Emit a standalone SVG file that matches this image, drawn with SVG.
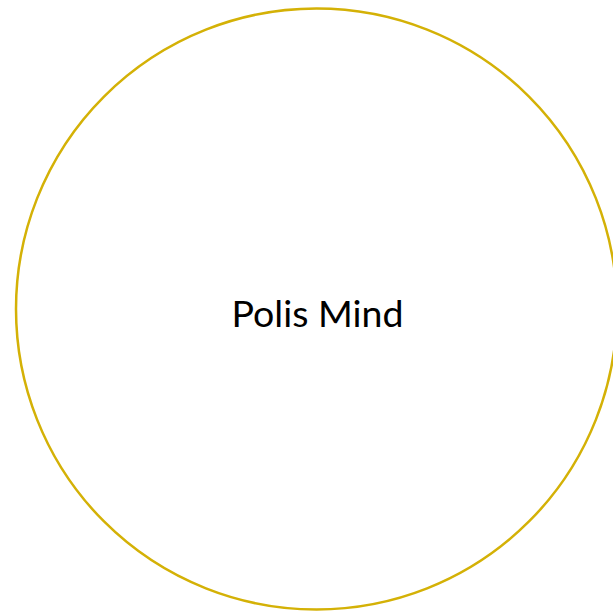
<svg xmlns="http://www.w3.org/2000/svg" width="613" height="614" viewBox="0 0 613 614">
<style>
.node-circle{fill:#ffffff;stroke:#d4b106;stroke-width:2.5}
.label{font-family:"Lato","Liberation Sans",sans-serif;font-size:37.5px;fill:#000000;text-anchor:middle}
</style>
<rect width="613" height="614" fill="#ffffff"/>
<g id="connectors"></g>
<g id="polis-mind">
<circle class="node-circle" cx="316.5" cy="309" r="300.5"/>
<text class="label" x="317.5" y="327">Polis Mind</text>
</g>
</svg>
